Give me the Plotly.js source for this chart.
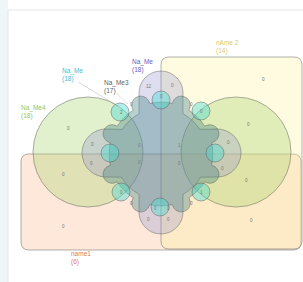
<!DOCTYPE html>
<html><head><meta charset="utf-8">
<script src="https://cdn.plot.ly/plotly-3.0.1.min.js"></script>
<style>html,body{margin:0;padding:0;background:#fff}#chart{width:303px;height:282px}</style>
</head><body><div id="chart"></div>
<script>
// ---- data ----
const setNames = ["name1", "nAme 2", "Na_Me4", "Na_Me", "Na_Me3", "Na_Me"];
const setSizes = [6, 14, 18, 18, 17, 18];
const setColors = ["rgb(222,122,90)", "rgb(215,205,110)", "rgb(140,200,100)", "rgb(70,190,205)", "rgb(95,95,95)", "rgb(95,95,195)"];
const regionCounts = ["0","0","0","0","0","0","0","0","0","1","0","12","0","0","0","0","0","0","0","0","0","2","0","0","1","0","0","0","0","0"];

// ---- layout geometry (pixel space of the 303x282 canvas) ----
const labelPos = [[70,258],[215,47],[20,112],[61,75],[103,87],[131,66]];
const regionPos = [[68,128],[63,174],[63,226],[263,79],[248,124],[246,180],[251,220],
  [139,145],[139,162],[179,145],[179,163],[149,86],[172,85],[148,219],[168,219],[155,208],[168,208],
  [228,142],[222,168],[92,144],[91,163],[121,112],[201,111],[121,192],[201,192],[131,104],[191,104],[131,203],[191,203],[161,96]];
const CX = 161, CY = 154;

function rr(x0,y0,x1,y1,r){
  return `M${x0+r},${y0} L${x1-r},${y0} Q${x1},${y0} ${x1},${y0+r} L${x1},${y1-r} Q${x1},${y1} ${x1-r},${y1} L${x0+r},${y1} Q${x0},${y1} ${x0},${y1-r} L${x0},${y0+r} Q${x0},${y0} ${x0+r},${y0} Z`;
}
const disc = (cx,cy,r)=>(x,y)=>(x-cx)*(x-cx)+(y-cy)*(y-cy)<=r*r;
function capsule(ax,ay,bx,by,w){
  return (x,y)=>{
    const dx=bx-ax, dy=by-ay, L=dx*dx+dy*dy;
    let t=((x-ax)*dx+(y-ay)*dy)/L; t=Math.max(0,Math.min(1,t));
    const px=ax+t*dx-x, py=ay+t*dy-y; return px*px+py*py<=w*w;
  };
}
function unionPath(parts){
  const inside=(x,y)=>parts.some(f=>f(x,y));
  let pts=[];
  for(let i=0;i<720;i++){
    const a=i/720*2*Math.PI, c=Math.cos(a), s=Math.sin(a);
    let t=160; while(t>0 && !inside(CX+t*c, CY+t*s)) t-=0.2;
    pts.push([(CX+t*c).toFixed(2),(CY+t*s).toFixed(2)]);
  }
  return "M"+pts.map(p=>p.join(",")).join(" L")+" Z";
}
const edge = {color:"rgba(90,90,90,0.6)", width:0.8};

const shapes = [];
// panel
shapes.push({type:"rect",xref:"paper",yref:"paper",x0:0,x1:8/303,y0:0,y1:1,fillcolor:"#eef6fa",line:{width:0},layer:"below"});
shapes.push({type:"rect",xref:"x",yref:"y",x0:8,x1:320,y0:10,y1:300,fillcolor:"#ffffff",line:{color:"#e3e6e8",width:1},layer:"below"});
// name1 & nAme 2 rectangles
shapes.push({type:"path",xref:"x",yref:"y",path:rr(21,154,301,250,8),fillcolor:"rgba(248,178,132,0.3)",line:edge});
shapes.push({type:"path",xref:"x",yref:"y",path:rr(161,57,302,249,8),fillcolor:"rgba(255,242,155,0.3)",line:edge});
// Na_Me4 : two big circles
[[88,152],[236,152]].forEach(c=>shapes.push({type:"circle",xref:"x",yref:"y",x0:c[0]-55,x1:c[0]+55,y0:c[1]-55,y1:c[1]+55,fillcolor:"rgba(170,212,112,0.35)",line:edge}));
// Na_Me (blue) : core with four lobes
shapes.push({type:"path",xref:"x",yref:"y",fillcolor:"rgba(145,145,205,0.3)",line:edge,path:unionPath([
  disc(CX,CY,46), capsule(CX,CY,161,93,22), capsule(CX,CY,161,212,22), capsule(CX,CY,106,153,24), capsule(CX,CY,217,153,24)])});
// Na_Me3 : core with eight bumps
const bumps=[disc(CX,CY,52)];
for(let k=0;k<8;k++){const a=(22.5+45*k)*Math.PI/180; bumps.push(disc(CX+53*Math.cos(a),CY+53*Math.sin(a),9));}
shapes.push({type:"path",xref:"x",yref:"y",fillcolor:"rgba(70,135,135,0.38)",line:edge,path:unionPath(bumps)});
// Na_Me (cyan) : eight small circles
[[161,100],[110,153],[215,153],[160,207],[120,112],[201,111],[121,192],[201,192]].forEach(c=>shapes.push({type:"circle",xref:"x",yref:"y",x0:c[0]-9,x1:c[0]+9,y0:c[1]-9,y1:c[1]+9,fillcolor:"rgba(80,220,210,0.45)",line:edge}));
// leader lines
shapes.push({type:"line",xref:"x",yref:"y",x0:78,y0:82,x1:118,y1:106,line:{color:"rgba(150,150,150,0.6)",width:0.6}});
shapes.push({type:"line",xref:"x",yref:"y",x0:116,y0:93,x1:128,y1:104,line:{color:"rgba(150,150,150,0.5)",width:0.6}});

const annotations=[];
setNames.forEach((n,i)=>{
  const f={family:"Liberation Sans, Arial, sans-serif",size:6.5,color:setColors[i]};
  annotations.push({x:labelPos[i][0],y:labelPos[i][1],xref:"x",yref:"y",text:n+"<br>("+setSizes[i]+")",align:"left",showarrow:false,xanchor:"left",yanchor:"middle",borderpad:0,font:f});
});
regionCounts.forEach((v,i)=>annotations.push({x:regionPos[i][0],y:regionPos[i][1],xref:"x",yref:"y",text:v,showarrow:false,xanchor:"center",yanchor:"middle",borderpad:0,font:{family:"Liberation Sans, Arial, sans-serif",size:4.5,color:"#777"}}));

Plotly.newPlot("chart",[{x:[0],y:[0],mode:"markers",marker:{opacity:0},hoverinfo:"skip"}],{
  width:303,height:282,margin:{l:0,r:0,t:0,b:0},showlegend:false,
  paper_bgcolor:"#ffffff",plot_bgcolor:"rgba(0,0,0,0)",
  xaxis:{range:[0,303],visible:false,fixedrange:true},
  yaxis:{range:[282,0],visible:false,fixedrange:true},
  shapes:shapes,annotations:annotations
},{displayModeBar:false,staticPlot:true});
</script></body></html>
